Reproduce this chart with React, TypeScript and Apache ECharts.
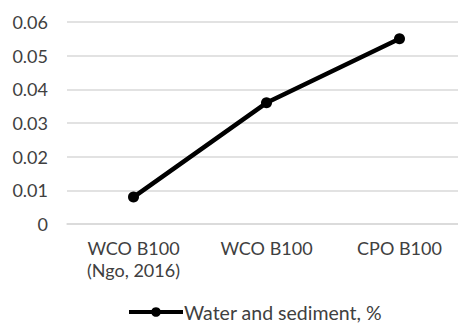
import React, { useEffect, useRef } from "react";
import * as echarts from "echarts";

const categories = ["WCO B100\n(Ngo, 2016)", "WCO B100", "CPO B100"];
const waterSediment = [0.008, 0.036, 0.055];
const seriesName = "Water and sediment, %";

export default function App() {
  const ref = useRef<HTMLDivElement>(null);

  useEffect(() => {
    if (!ref.current) return;
    const chart = echarts.init(ref.current, undefined, { renderer: "svg" });
    const font = "Lato, 'Open Sans', sans-serif";
    const textColor = "#404040";
    chart.setOption({
      animation: false,
      grid: { left: 67, top: 22, width: 408, height: 202, containLabel: false },
      xAxis: {
        type: "category",
        data: categories,
        boundaryGap: true,
        axisLine: { show: true, lineStyle: { color: "#d9d9d9", width: 1.5 } },
        axisTick: { show: false },
        axisLabel: {
          color: textColor,
          fontFamily: font,
          fontSize: 18,
          margin: 13,
          lineHeight: 22,
        },
      },
      yAxis: {
        type: "value",
        min: 0,
        max: 0.06,
        interval: 0.01,
        axisLine: { show: false },
        axisTick: { show: false },
        axisLabel: {
          color: textColor,
          fontFamily: font,
          fontSize: 18,
          margin: 19,
          formatter: (v: number) => (v === 0 ? "0" : v.toFixed(2)),
        },
        splitLine: { lineStyle: { color: "#d9d9d9", width: 1.5 } },
      },
      legend: {
        bottom: 6,
        left: 122,
        itemWidth: 54,
        itemHeight: 12,
        itemGap: 4,
        lineStyle: { width: 4, color: "#000" },
        itemStyle: { color: "#000" },
        textStyle: { color: textColor, fontFamily: font, fontSize: 19.5, padding: [0, 0, 0, -4] },
        data: [{ name: seriesName }],
      },
      series: [
        {
          name: seriesName,
          type: "line",
          data: waterSediment,
          symbol: "circle",
          symbolSize: 11,
          lineStyle: { color: "#000", width: 4.5 },
          itemStyle: { color: "#000" },
        },
      ],
    });
    return () => chart.dispose();
  }, []);

  return <div ref={ref} style={{ width: 466, height: 333, margin: -8 }} />;
}
